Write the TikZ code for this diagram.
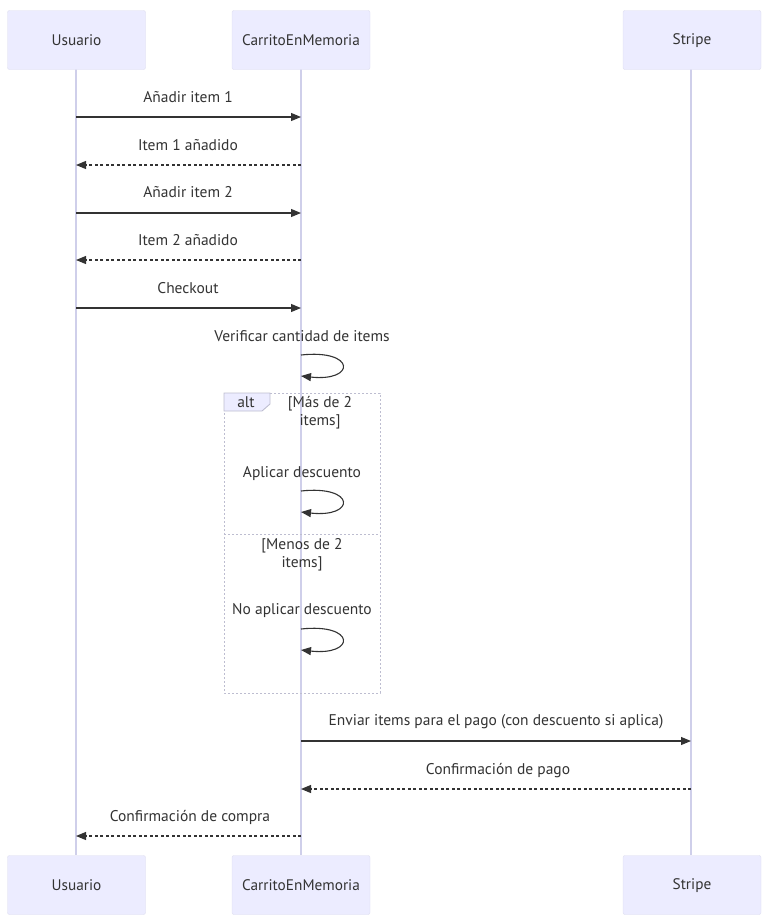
\documentclass[tikz,border=0pt]{standalone}
\usepackage{fontspec}
\setmainfont{PT Sans}
\usetikzlibrary{arrows.meta}
\definecolor{boxfill}{HTML}{ECECFF}
\definecolor{boxline}{HTML}{DCDCEE}
\definecolor{lifeline}{HTML}{CFCFEA}
\definecolor{txt}{HTML}{333333}
\definecolor{altline}{HTML}{BDBDD0}
\tikzset{
  actor/.style={draw=boxline, fill=boxfill, rounded corners=2pt, minimum width=138pt, minimum height=59pt, inner sep=0pt, text=txt, font=\fontsize{15.3}{17}\selectfont},
  life/.style={draw=lifeline, line width=1.2pt},
  msg/.style={draw=txt, line width=1.1pt, -{Triangle[length=10pt,width=8pt]}},
  reply/.style={msg, dash pattern=on 3pt off 2.5pt},
  lbl/.style={text=txt, font=\fontsize{15.5}{18}\selectfont, inner sep=0pt, text height=11pt, text depth=3pt},
  altbox/.style={draw=altline, line width=0.9pt, dash pattern=on 2pt off 2pt},
}
\begin{document}
\begin{tikzpicture}[x=1pt,y=-1pt]
\useasboundingbox (0,0) rectangle (768,924);
% lifelines
\coordinate (u0) at (76,69); \coordinate (u1) at (76,855);
\coordinate (c0) at (301,69); \coordinate (c1) at (301,855);
\coordinate (s0) at (691,69); \coordinate (s1) at (691,855);
\draw[life] (u0) -- (u1);
\draw[life] (c0) -- (c1);
\draw[life] (s0) -- (s1);
% actors
\node[actor] (ut) at (76.5,40) {Usuario};
\node[actor] (ct) at (301,40) {CarritoEnMemoria};
\node[actor] (st) at (692,40) {\raisebox{0pt}[11pt][3pt]{Stripe}};
\node[actor] (ub) at (76.5,885) {Usuario};
\node[actor] (cb) at (301,885) {CarritoEnMemoria};
\node[actor] (sb) at (692,885) {\raisebox{0pt}[11pt][3pt]{Stripe}};
% alt box
\draw[altbox] (224,393) rectangle (380,693);
\draw[altbox] (224,534) -- (380,534);
\draw[draw=altline, fill=boxfill, line width=0.9pt] (224,393) -- (270,393) -- (270,404) -- (262,411) -- (224,411) -- cycle;
\node[lbl] (altl) at (246,403) {alt};
\node[text=txt, font=\fontsize{15.5}{18}\selectfont, inner sep=0pt, align=center] (g1) at (320,413) {[Más de 2\\items]};
\node[text=txt, font=\fontsize{15.5}{18}\selectfont, inner sep=0pt, align=center] (g2) at (302,555) {[Menos de 2\\items]};
% messages
\foreach \y/\n in {117/a,165/b,213/c,260/d,308/e,836/k}{
  \coordinate (u\n) at (76,\y); \coordinate (c\n) at (301,\y);
}
\coordinate (cm) at (301,741); \coordinate (sm) at (691,741);
\coordinate (cn) at (301,789); \coordinate (sn) at (691,789);
\draw[msg] (ua) -- (ca);
\node[lbl] (la) at (188,98) {Añadir item 1};
\draw[reply] (cb) -- (ub);
\node[lbl] (lb) at (188,146) {Item 1 añadido};
\draw[msg] (uc) -- (cc);
\node[lbl] (lc) at (188,193) {Añadir item 2};
\draw[reply] (cd) -- (ud);
\node[lbl] (ld) at (188,241) {Item 2 añadido};
\draw[msg] (ue) -- (ce);
\node[lbl] (le) at (188,289) {Checkout};
% self loops
\foreach \y/\n in {355/p,491/q,629/r}{
  \coordinate (sA\n) at (301,\y); \coordinate (sB\n) at (301,\y+21);
  \draw[msg] (sA\n) .. controls (356,\y-6) and (356,\y+27) .. (sB\n);
}
\node[lbl] (lp) at (302,337) {Verificar cantidad de items};
\node[lbl] (lq) at (302,473) {Aplicar descuento};
\node[lbl] (lr) at (302,610) {No aplicar descuento};
\draw[msg] (cm) -- (sm);
\node[lbl] (lm) at (496,721) {Enviar items para el pago (con descuento si aplica)};
\draw[reply] (sn) -- (cn);
\node[lbl] (ln) at (498,770) {Confirmación de pago};
\draw[reply] (ck) -- (uk);
\node[lbl] (lk) at (190,817) {Confirmación de compra};
\end{tikzpicture}
\end{document}
